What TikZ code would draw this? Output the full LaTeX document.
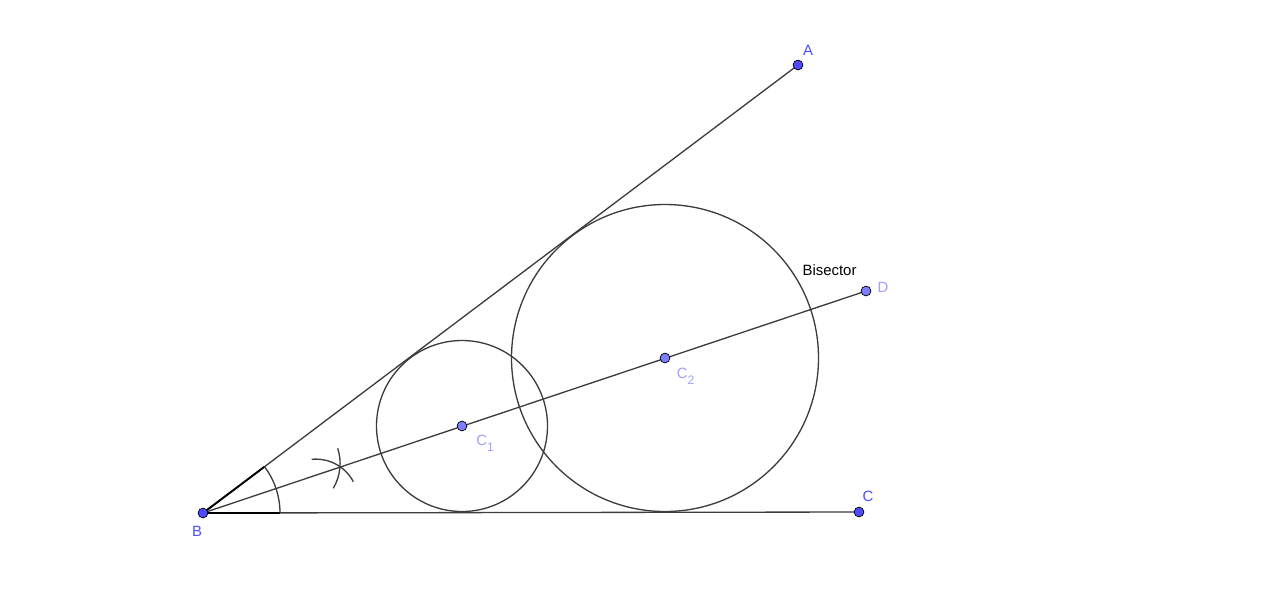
\documentclass[tikz,border=0pt]{standalone}
\usepackage{fontspec}
\setmainfont{Liberation Sans}
\definecolor{ptblue}{RGB}{77,77,255}
\definecolor{ptpale}{RGB}{125,125,255}
\definecolor{lblpale}{RGB}{160,160,255}
\definecolor{seggray}{RGB}{60,60,60}
\newcommand{\subidx}[1]{\raisebox{-3.5pt}{\fontsize{7}{8}\selectfont #1}}

\begin{document}
\begin{tikzpicture}[x=0.02cm, y=-0.02cm,
    seg/.style={draw=seggray, line width=0.75pt},
    marker/.style={draw=black, line width=1.1pt},
    pt/.style={circle, draw=black, line width=0.4pt, fill=ptblue, inner sep=0pt, minimum size=5.6pt},
    ptpl/.style={pt, fill=ptpale},
    lbl/.style={inner sep=0pt, font=\fontsize{8.5}{10}\selectfont}]
    \useasboundingbox (0,0) rectangle (1280,593);
    \coordinate (B) at (203,513);
    \coordinate (A) at (798,65);
    \coordinate (C) at (859,512);
    \coordinate (D) at (866,291);
    \coordinate (C1) at (462,426);
    \coordinate (C2) at (665,358);
    \coordinate (P1) at (264.5,466.7);
    \coordinate (P2) at (280,513);
    \coordinate (K1) at (315.8,501.6);
    \coordinate (K2) at (291.3,463.4);
    \draw[seg] (B) -- (A);
    \draw[seg] (B) -- (C);
    \draw[seg] (B) -- (D);
    \draw[seg] (C1) circle (85.5);
    \draw[seg] (C2) circle (153.5);
    \draw[marker] (B) -- (P1);
    \draw[marker] (B) -- (P2);
    \draw[seg] (P2) arc[start angle=0, end angle=-37, radius=77];
    \draw[seg] ([shift={(-95.5:42.5)}]K1) arc[start angle=-95.5, end angle=-28, radius=42.5];
    \draw[seg] ([shift={(-18:48.8)}]K2) arc[start angle=-18, end angle=30.7, radius=48.8];
    \node[pt] (dotA) at (A) {};
    \node[pt] (dotB) at (B) {};
    \node[pt] (dotC) at (C) {};
    \node[ptpl] (dotD) at (D) {};
    \node[ptpl] (dotC1) at (C1) {};
    \node[ptpl] (dotC2) at (C2) {};
    \node[lbl, text=ptblue] (labA) at (808,50) {A};
    \node[lbl, text=ptblue] (labB) at (197,531) {B};
    \node[lbl, text=ptblue] (labC) at (868,496) {C};
    \node[lbl, text=lblpale] (labD) at (883,287.5) {D};
    \node[lbl, text=lblpale, anchor=base west] (labC1) at (476,445) {C\subidx{1}};
    \node[lbl, text=lblpale, anchor=base west] (labC2) at (676.5,378) {C\subidx{2}};
    \node[lbl] (bis) at (829.5,270) {Bisector};
\end{tikzpicture}
\end{document}
